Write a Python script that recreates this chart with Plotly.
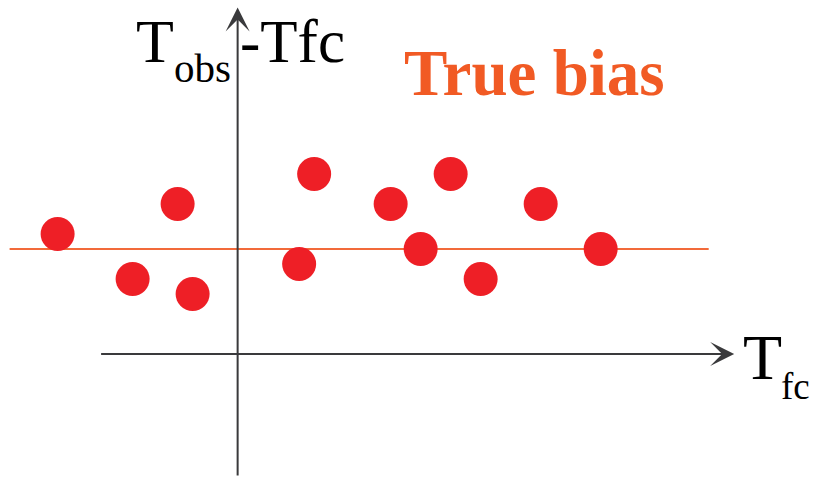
import plotly.graph_objects as go

# Data (logical units: x = Tfc, y = Tobs - Tfc)
tfc = [-6.0, -3.5, -2.0, -1.5, 2.05, 2.55, 5.1, 6.1, 7.1, 8.1, 10.1, 12.1]
bias = [8.0, 5.0, 10.0, 4.0, 6.0, 12.0, 10.0, 7.0, 12.0, 5.0, 10.0, 7.0]
true_bias = 7.0
bias_line_x = [-7.6, 15.7]

x_range = [-7.92, 19.31]
y_range = [-8.2, 23.6]

dot_color = "#EE1F26"
orange = "#F15A24"
axis_color = "#3A3A3C"
serif = "Liberation Serif, Times New Roman, serif"

fig = go.Figure()

fig.add_trace(go.Scatter(
    x=bias_line_x, y=[true_bias, true_bias], mode="lines",
    line=dict(color="#F26A3A", width=2), hoverinfo="skip", showlegend=False))

fig.add_trace(go.Scatter(
    x=tfc, y=bias, mode="markers",
    marker=dict(color=dot_color, size=34, line=dict(width=0)),
    showlegend=False))

# axes as arrows
fig.add_annotation(x=0, y=23.1, ax=0, ay=-8.2, xref="x", yref="y", axref="x", ayref="y",
                   showarrow=True, arrowhead=3, arrowsize=2, arrowwidth=2,
                   arrowcolor=axis_color, text="")
fig.add_annotation(x=16.55, y=0, ax=-4.6, ay=0, xref="x", yref="y", axref="x", ayref="y",
                   showarrow=True, arrowhead=3, arrowsize=2, arrowwidth=2,
                   arrowcolor=axis_color, text="")

W, H = 817, 477

def txt(s, px, py, size, color="black", bold=False, xanchor="left", yanchor="bottom"):
    fig.add_annotation(x=px / W, y=1 - py / H, xref="paper", yref="paper",
                       text=f"<b>{s}</b>" if bold else s, showarrow=False,
                       xanchor=xanchor, yanchor=yanchor,
                       font=dict(family=serif, size=size, color=color))

# y-axis label: T_obs - Tfc
txt("T", 134, 77, 62)
txt("obs", 172, 93, 41)
txt("-Tfc", 238, 77, 61)
# x-axis label: T_fc
txt("T", 741, 395, 64)
txt("fc", 779, 409, 37)
# True bias
txt("True bias", 402, 111, 65, color=orange, bold=True)

fig.update_layout(
    width=W, height=H, margin=dict(l=0, r=0, t=0, b=0),
    paper_bgcolor="white", plot_bgcolor="white",
    xaxis=dict(range=x_range, visible=False, fixedrange=True),
    yaxis=dict(range=y_range, visible=False, fixedrange=True),
    showlegend=False,
)

fig.write_html("out.html", config={"displayModeBar": False},
               post_script="document.body.style.margin='0';document.body.style.overflow='hidden';")
